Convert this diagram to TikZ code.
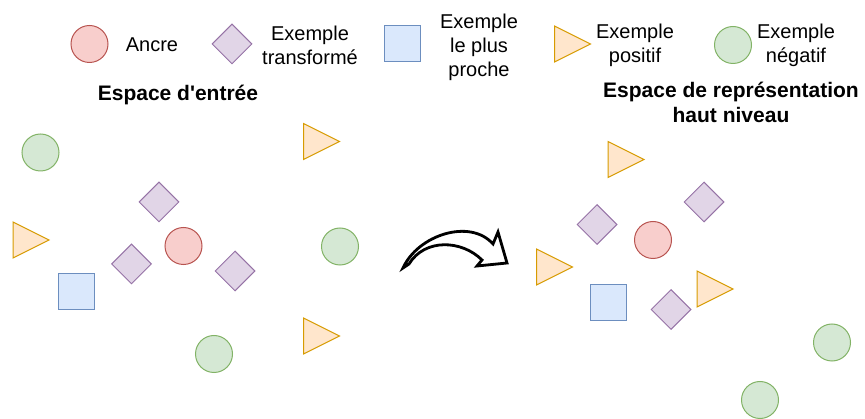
\documentclass[tikz,border=0pt]{standalone}
\usepackage{fontspec}
\setmainfont{Liberation Sans}
\usetikzlibrary{shapes.geometric}
\definecolor{redF}{HTML}{F8CECC}\definecolor{redD}{HTML}{B85450}
\definecolor{purF}{HTML}{E1D5E7}\definecolor{purD}{HTML}{9673A6}
\definecolor{bluF}{HTML}{DAE8FC}\definecolor{bluD}{HTML}{6C8EBF}
\definecolor{orgF}{HTML}{FFE6CC}\definecolor{orgD}{HTML}{D79B00}
\definecolor{grnF}{HTML}{D5E8D4}\definecolor{grnD}{HTML}{82B366}
\begin{document}
\begin{tikzpicture}[x=1pt,y=-1pt,
  anc/.style={circle, draw=redD, fill=redF, line width=1pt, minimum size=37pt, inner sep=0pt},
  neg/.style={circle, draw=grnD, fill=grnF, line width=1pt, minimum size=37pt, inner sep=0pt},
  tra/.style={diamond, aspect=1, draw=purD, fill=purF, line width=1pt, minimum width=40pt, minimum height=40pt, inner sep=0pt},
  near/.style={rectangle, draw=bluD, fill=bluF, line width=1pt, minimum size=36pt, inner sep=0pt},
  lab/.style={font=\fontsize{20}{24}\selectfont, align=center, inner sep=0pt},
  ttl/.style={font=\bfseries\fontsize{21}{25}\selectfont, align=center, inner sep=0pt},
  posline/.style={draw=orgD, fill=orgF, line width=1pt, line join=miter},
  pics/postri/.style={code={\path[posline] (-18,-18) -- (18,0) -- (-18,18) -- cycle;}},
  bigarrow/.style={draw=black, fill=white, line width=2.8pt, line join=miter}
]
\useasboundingbox (0,0) rectangle (865,419);

% legend
\node[anc] (lA) at (89.5,44) {};
\node[lab] (tA) at (152,45) {Ancre};
\node[tra] (lT) at (232,44) {};
\node[lab] (tT) at (310,45) {Exemple\\transformé};
\node[near] (lN) at (402.5,44) {};
\node[lab] (tN) at (479,47) {Exemple\\le plus\\proche};
\pic (lP) at (572.5,44) {postri};
\node[lab] (tP) at (635,45) {Exemple\\positif};
\node[neg] (lG) at (733,45) {};
\node[lab] (tG) at (796,45) {Exemple\\négatif};

% titles
\node[ttl] (s1) at (178,95) {Espace d\textquotesingle entrée};
\node[ttl] (s2) at (731,102) {Espace de représentation\\haut niveau};

% input space
\node[neg] (a1) at (40.5,152.5) {};
\pic (a2) at (321.5,141.5) {postri};
\node[tra] (a3) at (159,202) {};
\pic (a4) at (31,240) {postri};
\node[anc] (a5) at (183.5,246) {};
\node[neg] (a6) at (340,246.5) {};
\node[tra] (a7) at (131.5,264) {};
\node[tra] (a8) at (235,271) {};
\node[near] (a9) at (76,292) {};
\node[neg] (a10) at (214,354) {};
\pic (a11) at (321.5,336) {postri};

% high-level space
\pic (b1) at (626,159.5) {postri};
\node[tra] (b2) at (704,202) {};
\node[tra] (b3) at (597,224.5) {};
\node[anc] (b4) at (653,240) {};
\pic (b5) at (554.5,267) {postri};
\node[near] (b6) at (608,302.5) {};
\node[tra] (b7) at (671,309.5) {};
\pic (b8) at (715,289) {postri};
\node[neg] (b9) at (832,342.5) {};
\node[neg] (b10) at (760,400) {};

% curved arrow
\coordinate (A) at (403,268);
\coordinate (B) at (493,244);
\coordinate (C) at (498,232);
\coordinate (D) at (507,263);
\coordinate (E) at (477,266);
\coordinate (F) at (482,260);
\coordinate (G) at (409,264);
\path[bigarrow] (A) .. controls (418,235) and (470,218) .. (B) -- (C) -- (D) -- (E) -- (F)
  .. controls (462,240) and (425,238) .. (G) -- cycle;
\end{tikzpicture}
\end{document}
